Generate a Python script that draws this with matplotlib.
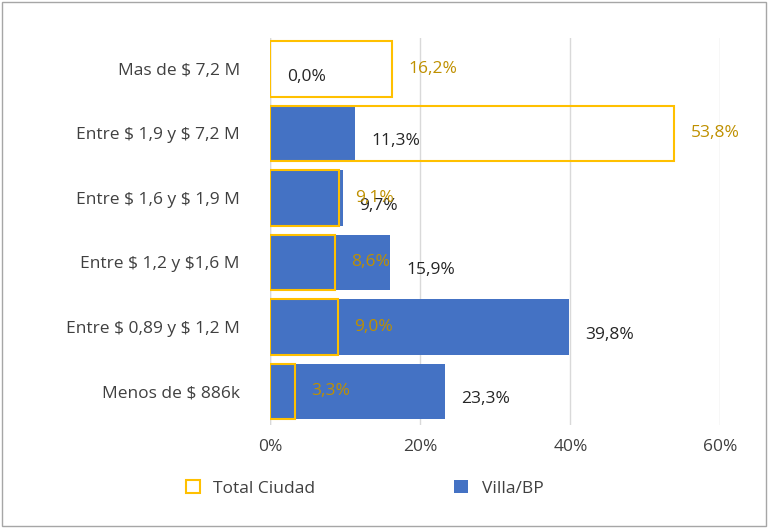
import matplotlib.pyplot as plt
from matplotlib.patches import Patch

plt.rcParams["text.parse_math"] = False
plt.rcParams["font.family"] = ["Open Sans", "DejaVu Sans"]

categories = ["Mas de $ 7,2 M", "Entre $ 1,9 y $ 7,2 M", "Entre $ 1,6 y $ 1,9 M",
              "Entre $ 1,2 y $1,6 M", "Entre $ 0,89 y $ 1,2 M", "Menos de $ 886k"]
villa = [0.0, 11.3, 9.7, 15.9, 39.8, 23.3]
total = [16.2, 53.8, 9.1, 8.6, 9.0, 3.3]

blue = "#4472C4"
gold = "#FFC000"
gold_txt = "#BF9000"

fig = plt.figure(figsize=(7.68, 5.28), dpi=100)
ax = fig.add_axes([0.352, 0.195, 0.586, 0.733])
y = list(range(len(categories)))[::-1]

ax.barh(y, villa, height=0.86, color=blue, zorder=2)
ax.barh(y, total, height=0.86, facecolor="none", edgecolor=gold, linewidth=1.5, zorder=3)

for yi, v, t in zip(y, villa, total):
    ax.text(v + 2.2, yi - 0.12, f"{v:.1f}%".replace(".", ","), va="center", fontsize=12.5, color="#262626", zorder=4)
    ax.text(t + 2.2, yi, f"{t:.1f}%".replace(".", ","), va="center", fontsize=12.5, color=gold_txt, zorder=4)

ax.set_xlim(0, 60)
ax.set_ylim(-0.52, 5.48)
ax.set_xticks([0, 20, 40, 60])
ax.set_xticklabels(["0%", "20%", "40%", "60%"])
ax.set_yticks(y)
ax.set_yticklabels(categories)
ax.tick_params(length=0, labelsize=12.5, colors="#404040", pad=22)
ax.tick_params(axis="x", pad=10)
ax.grid(axis="x", color="#D9D9D9", linewidth=1, zorder=0)
ax.set_axisbelow(True)
for s in ax.spines.values():
    s.set_visible(False)
ax.axvline(0, color="#D9D9D9", linewidth=1, zorder=1)

handles = [Patch(facecolor="none", edgecolor=gold, linewidth=1.5, label="Total Ciudad"),
           Patch(facecolor=blue, label="Villa/BP")]
fig.legend(handles=handles, loc="center", bbox_to_anchor=(0.475, 0.075), ncol=2,
           frameon=False, fontsize=12.5, columnspacing=8, handlelength=0.8, handleheight=0.8,
           labelcolor="#404040")

fig.patches.append(plt.Rectangle((0.003, 0.003), 0.994, 0.994, transform=fig.transFigure,
                                 fill=False, edgecolor="#A6A6A6", linewidth=1))
fig.savefig("out.png", dpi=100)
